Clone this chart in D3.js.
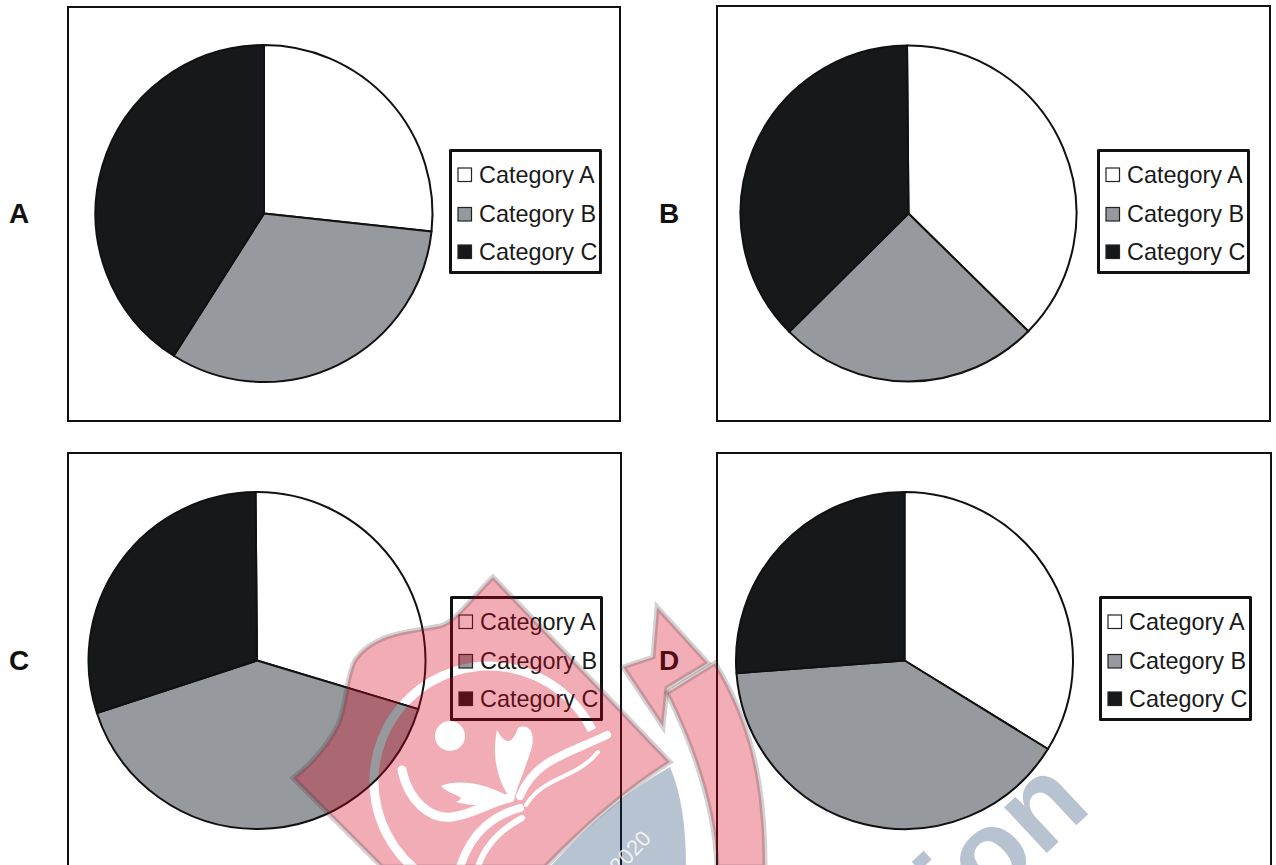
<!DOCTYPE html>
<html>
<head>
<meta charset="utf-8">
<script src="https://cdn.jsdelivr.net/npm/d3@7"></script>
<style>
  html, body { margin: 0; padding: 0; background: #fff; overflow: hidden; }
  svg { display: block; font-family: "Liberation Sans", Arial, sans-serif; }
</style>
</head>
<body>
<svg id="chart" width="1276" height="865"></svg>
<script>
// values (percent of each pie)
const categories = ["Category A", "Category B", "Category C"];
const panelNames = ["A", "B", "C", "D"];
const valuesA = [26.7, 32.3, 41];
const valuesB = [37.5, 25.2, 37.3];
const valuesC = [29.8, 40.3, 29.9];
const valuesD = [33.8, 40, 26.2];
const allValues = [valuesA, valuesB, valuesC, valuesD];
const colors = ["#ffffff", "#96999d", "#16181a"];

// layout of each panel
const panels = [
  {x: 68, y: 7, w: 552, h: 414, cx: 264, cy: 213.5, r: 168.5, rot: 0, lx: 450.5, ly: 150.5, labelX: 9, labelY: 223},
  {x: 717, y: 6, w: 553, h: 415, cx: 908.5, cy: 213.5, r: 168, rot: -0.5, lx: 1098.5, ly: 150.5, labelX: 659, labelY: 223},
  {x: 68, y: 453, w: 553, h: 414, cx: 257, cy: 660.5, r: 168.5, rot: -0.5, lx: 451.5, ly: 597.5, labelX: 9, labelY: 670},
  {x: 717, y: 453, w: 554, h: 414, cx: 904.5, cy: 660.5, r: 168.5, rot: 0, lx: 1100.5, ly: 597.5, labelX: 659, labelY: 670}
];
const legendRows = [24.5, 64, 101.5];

const svg = d3.select("#chart");

panels.forEach((p, i) => {
  const g = svg.append("g");

  g.append("rect")
    .attr("x", p.x).attr("y", p.y)
    .attr("width", p.w).attr("height", p.h)
    .attr("fill", "#fff")
    .attr("stroke", "#111").attr("stroke-width", 2);

  const rot = p.rot * Math.PI / 180;
  const pie = d3.pie().sort(null).startAngle(rot).endAngle(2 * Math.PI + rot);
  const arc = d3.arc().innerRadius(0).outerRadius(p.r);

  g.append("g")
    .attr("transform", `translate(${p.cx},${p.cy})`)
    .selectAll("path")
    .data(pie(allValues[i]))
    .join("path")
    .attr("d", arc)
    .attr("fill", (d, j) => colors[j])
    .attr("stroke", "#111")
    .attr("stroke-width", 2)
    .attr("stroke-linejoin", "round");

  g.append("text")
    .attr("x", p.labelX).attr("y", p.labelY)
    .attr("font-size", 28).attr("font-weight", "bold")
    .attr("fill", "#111")
    .text(panelNames[i]);

  // legend
  const legend = g.append("g").attr("transform", `translate(${p.lx},${p.ly})`);
  legend.append("rect")
    .attr("width", 150).attr("height", 122)
    .attr("fill", "#fff")
    .attr("stroke", "#111").attr("stroke-width", 3)
    .attr("stroke-linejoin", "round");

  const row = legend.selectAll("g.row")
    .data(categories)
    .join("g")
    .attr("class", "row")
    .attr("transform", (d, j) => `translate(0,${legendRows[j]})`);
  row.append("rect")
    .attr("x", 7.5).attr("y", -7)
    .attr("width", 13.5).attr("height", 13.5)
    .attr("fill", (d, j) => colors[j])
    .attr("stroke", "#222").attr("stroke-width", 1.2);
  row.append("text")
    .attr("x", 28.5).attr("y", 7.5)
    .attr("font-size", 23.4)
    .attr("fill", "#1a1a1a")
    .text(d => d);
});

// watermark that lies over the whole picture
const defs = svg.append("defs");
const shieldPath = "M493,577 C470,600 455,622 440,626 C410,632 375,632 355,660 C345,680 348,700 338,725 C325,750 310,765 293,778 L382,867 L545,867 Q610,800 670,762 Z";
const ribbon1 = "M657,607 L708,663 L667,688 L663,727 L623,667 L653,657 Z";
const ribbon2 = "M667,693 L715,663 C750,720 765,780 765,867 L717,867 C715,810 695,750 667,693 Z";

const mask = defs.append("mask").attr("id", "shield-mask")
  .attr("maskUnits", "userSpaceOnUse")
  .attr("x", 0).attr("y", 0).attr("width", 1276).attr("height", 865);
mask.append("path").attr("d", shieldPath).attr("fill", "#fff");
// ring
mask.append("path")
  .attr("d", "M592,730 A115,115 0 1 0 432,881")
  .attr("fill", "none").attr("stroke", "#000").attr("stroke-width", 9);
// dot and leaves
mask.append("circle").attr("cx", 450).attr("cy", 736).attr("r", 15).attr("fill", "#000");
mask.append("path")
  .attr("d", "M497,730 C505,745 512,745 518,728 C530,722 536,735 531,750 C524,772 518,785 513,802 C503,790 490,765 497,730 Z")
  .attr("fill", "#000");
mask.append("path")
  .attr("d", "M441,786 C460,778 490,785 511,798 C490,808 470,806 456,802 C470,796 450,796 441,786 Z")
  .attr("fill", "#000");
[
  ["M402,770 C408,800 430,820 452,817 C475,814 490,802 510,798", 9],
  ["M520,796 C535,760 565,755 607,735", 8],
  ["M526,805 C545,775 575,780 598,752", 4],
  ["M520,808 C495,815 472,830 460,867", 8],
  ["M522,818 C500,830 485,845 478,867", 6]
].forEach(s => {
  mask.append("path")
    .attr("d", s[0]).attr("fill", "none")
    .attr("stroke", "#000").attr("stroke-width", s[1]).attr("stroke-linecap", "round");
});

const mark = svg.append("g").style("pointer-events", "none");
const red = "#d9001b";
mark.append("rect")
  .attr("width", 1276).attr("height", 865)
  .attr("fill", red).attr("opacity", 0.32)
  .attr("mask", "url(#shield-mask)");
mark.selectAll("path.ribbon")
  .data([ribbon1, ribbon2])
  .join("path")
  .attr("class", "ribbon")
  .attr("d", d => d)
  .attr("fill", red).attr("fill-opacity", 0.32);
mark.selectAll("path.rim")
  .data([shieldPath, ribbon1, ribbon2])
  .join("path")
  .attr("class", "rim")
  .attr("d", d => d)
  .attr("fill", "none")
  .attr("stroke", "#333").attr("stroke-opacity", 0.22).attr("stroke-width", 5);

// blue band and lettering
mark.append("path")
  .attr("d", "M670,767 Q610,800 550,867 L686,867 C686,830 682,795 670,767 Z")
  .attr("fill", "#0f3762").attr("fill-opacity", 0.3);
mark.append("text")
  .attr("transform", "translate(619,875) rotate(-47)")
  .attr("font-size", 22)
  .attr("fill", "#fff").attr("fill-opacity", 0.8)
  .text("2020");
mark.append("text")
  .attr("transform", "translate(964,930) rotate(-43)")
  .attr("font-size", 118).attr("font-weight", "bold")
  .attr("fill", "#0f3762").attr("fill-opacity", 0.3)
  .text("ion");
</script>
</body>
</html>
